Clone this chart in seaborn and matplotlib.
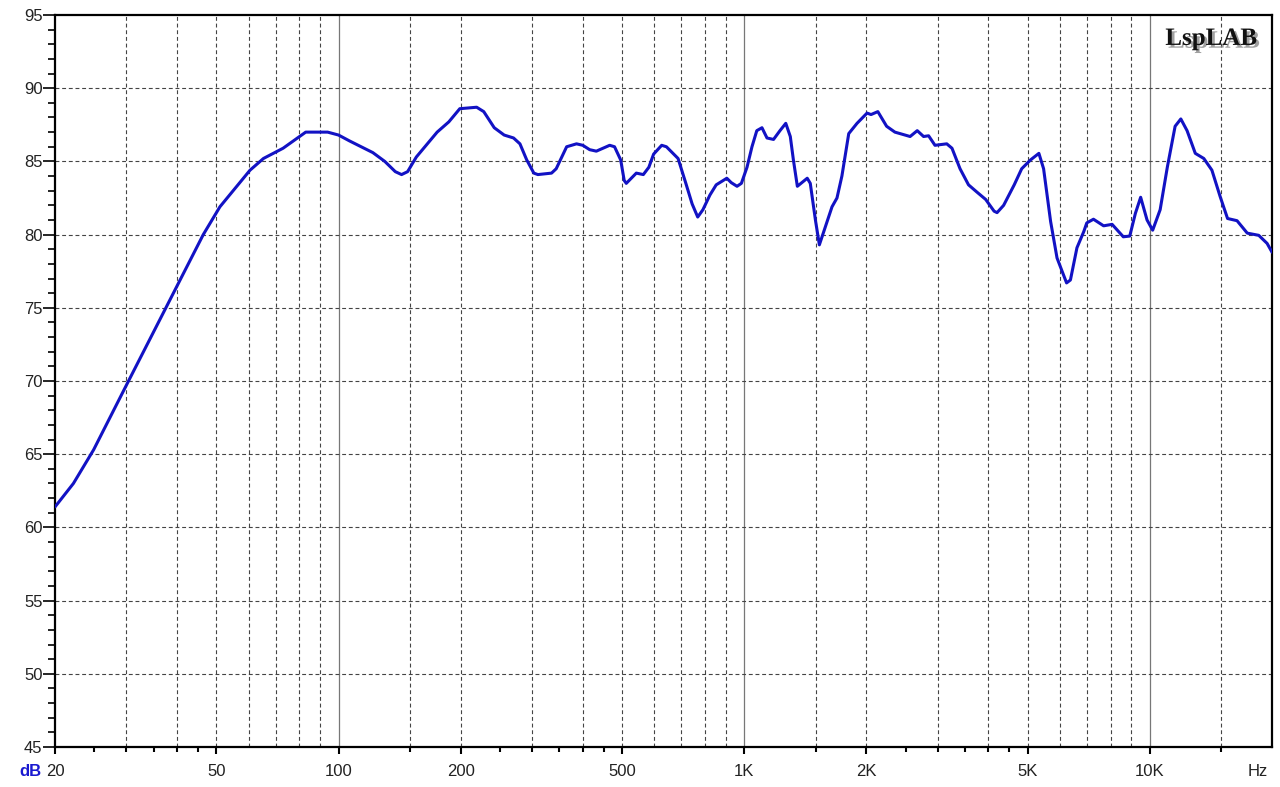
import numpy as np
import pandas as pd
import matplotlib
matplotlib.use('Agg')
import matplotlib.pyplot as plt
import matplotlib.patheffects as pe
from matplotlib.ticker import NullFormatter
import seaborn as sns

# frequency response (Hz, dB SPL)
freq_hz = [20, 22.2, 24.9, 30.1, 37.7, 46.4, 51, 60.5, 65.3, 73, 83, 94, 100,
           106.4, 121.5, 130, 138, 143, 148, 155.5, 175, 187, 199, 219, 228,
           242, 256, 270, 280, 291, 303, 310, 335, 344, 365, 386, 400, 416,
           432, 466, 479, 496, 506, 512, 542, 564, 582, 598, 626, 643, 670,
           687, 718, 744, 768, 791, 823, 853, 906, 929, 960, 984, 1016, 1045,
           1074, 1106, 1138, 1181, 1225, 1266, 1299, 1322, 1352, 1430, 1455,
           1498, 1532, 1584, 1646, 1693, 1741, 1810, 1897, 2008, 2054, 2135,
           2244, 2352, 2564, 2670, 2768, 2848, 2953, 3157, 3252, 3404, 3572,
           3748, 3938, 4130, 4200, 4360, 4630, 4831, 5078, 5326, 5470, 5692,
           5904, 6232, 6370, 6610, 6870, 6990, 7260, 7690, 8070, 8600, 8920,
           9210, 9490, 9840, 10160, 10600, 11040, 11540, 11920, 12350, 12940,
           13580, 14220, 14900, 15540, 16400, 17380, 18550, 19450, 20000]
spl_db = [61.4, 63.0, 65.3, 69.8, 75.1, 80.0, 81.9, 84.4, 85.2, 85.9, 87.0, 87.0, 86.8,
          86.4, 85.6, 85.0, 84.3, 84.1, 84.3, 85.3, 87.0, 87.7, 88.6, 88.7, 88.4,
          87.3, 86.8, 86.6, 86.2, 85.1, 84.2, 84.1, 84.2, 84.5, 86.0, 86.2, 86.1, 85.8,
          85.7, 86.1, 86.0, 85.1, 83.7, 83.5, 84.2, 84.1, 84.6, 85.5, 86.1, 86.0, 85.5,
          85.2, 83.5, 82.1, 81.2, 81.7, 82.7, 83.4, 83.85, 83.55, 83.3, 83.5, 84.6, 86.0,
          87.1, 87.3, 86.6, 86.5, 87.1, 87.6, 86.7, 85.1, 83.3, 83.85, 83.5,
          81.0, 79.3, 80.5, 81.9, 82.5, 84.0, 86.9, 87.6, 88.3, 88.2, 88.4,
          87.4, 87.0, 86.7, 87.1, 86.7, 86.75, 86.1, 86.2, 85.9, 84.5, 83.4,
          82.9, 82.4, 81.6, 81.5, 82.0, 83.4, 84.5, 85.1, 85.55, 84.5, 80.9,
          78.4, 76.7, 76.9, 79.1, 80.2, 80.8, 81.05, 80.6, 80.7, 79.85, 79.9,
          81.45, 82.55, 81.0, 80.3, 81.7, 84.6, 87.4, 87.9, 87.1, 85.55,
          85.2, 84.4, 82.6, 81.1, 80.95, 80.1, 79.95, 79.4, 78.8]

y_ticks = list(range(45, 96, 5))
x_major = [20, 50, 100, 200, 500, 1000, 2000, 5000, 10000]
x_labels = ['20', '50', '100', '200', '500', '1K', '2K', '5K', '10K']
x_minor = [25, 30, 35, 40, 45, 150, 250, 300, 350, 400, 450,
           1500, 2500, 3000, 3500, 4000, 4500, 15000]
grid_dashed = [30, 40, 50, 60, 70, 80, 90, 150, 200, 300, 400, 500, 600, 700,
               800, 900, 1500, 2000, 3000, 4000, 5000, 6000, 7000, 8000, 9000, 15000]
grid_solid = [100, 1000, 10000]

df = pd.DataFrame({'freq': freq_hz, 'spl': spl_db})

sns.set_theme(style='white')
plt.rcParams['font.family'] = ['Liberation Sans', 'DejaVu Sans']

fig = plt.figure(figsize=(12.8, 7.87), dpi=100)
ax = fig.add_axes([55 / 1280, 1 - 747 / 787, 1217 / 1280, 732 / 787])

# grid
for f in grid_dashed:
    ax.axvline(f, color='#444444', lw=0.8, ls=(0, (3.5, 2.5)), zorder=1)
for f in grid_solid:
    ax.axvline(f, color='#777777', lw=0.9, zorder=1)
for v in y_ticks[1:-1]:
    ax.axhline(v, color='#444444', lw=0.8, ls=(0, (3.5, 2.5)), zorder=1)

sns.lineplot(data=df, x='freq', y='spl', ax=ax, color='#1212c4', lw=2.2,
             estimator=None, sort=False, zorder=3)

ax.set_xscale('log')
ax.set_xlim(20, 20000)
ax.set_ylim(45, 95)
ax.set_xticks(x_major, x_labels)
ax.set_xticks(x_minor, minor=True)
ax.xaxis.set_minor_formatter(NullFormatter())
ax.set_yticks(y_ticks)
ax.set_yticks(np.arange(45, 96, 1), minor=True)
ax.set_xlabel('')
ax.set_ylabel('')

ax.tick_params(axis='x', which='major', direction='out', length=5, width=1.5,
               color='black', labelsize=12, labelcolor='#222222', pad=7, bottom=True)
ax.tick_params(axis='x', which='minor', direction='out', length=3.5, width=1.5,
               color='black', bottom=True)
ax.tick_params(axis='y', which='major', direction='out', length=9, width=1.2,
               color='black', labelsize=12, labelcolor='#222222', pad=0, left=True)
ax.tick_params(axis='y', which='minor', direction='out', length=5, width=1.2,
               color='black', left=True)

for s in ax.spines.values():
    s.set_visible(True)
    s.set_color('black')
    s.set_linewidth(1.6)

ax.text(0.950, 0.968, 'LspLAB', transform=ax.transAxes, ha='center', va='center',
        fontsize=18, fontweight='bold', family=['Liberation Serif', 'DejaVu Serif'],
        color='#111111',
        path_effects=[pe.withSimplePatchShadow(offset=(2, -2), shadow_rgbFace='#888888', alpha=0.8)])

fig.text(30 / 1280, 1 - 772 / 787, 'dB', color='#1a1ad0', fontsize=12,
         fontweight='bold', ha='center', va='center')
fig.text(1258 / 1280, 1 - 772 / 787, 'Hz', color='#222222', fontsize=12,
         ha='center', va='center')

fig.savefig('out.png', dpi=100)
